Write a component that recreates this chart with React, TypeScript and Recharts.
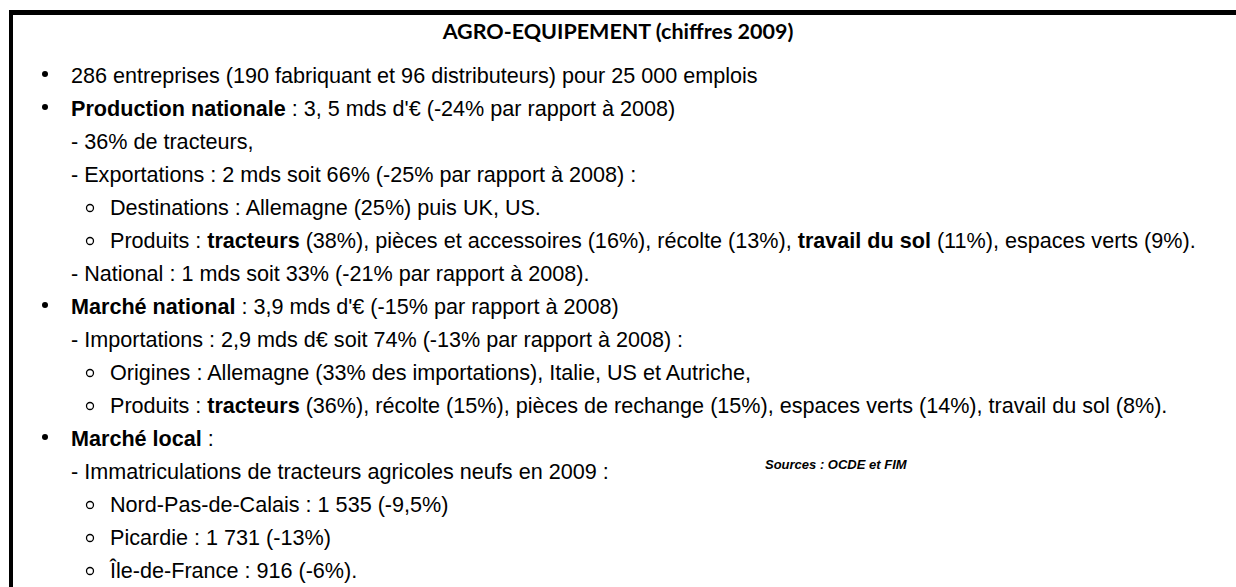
import { Surface, Layer, Text } from 'recharts';

// texte du cadre "agro-équipement" (chiffres 2009)
const title = 'AGRO-EQUIPEMENT (chiffres 2009)';

type Seg = [string, boolean];

// niveau: 0 = puce ronde, 1 = tiret, 2 = puce "o"
const levels = [0, 0, 1, 1, 2, 2, 1, 0, 1, 2, 2, 0, 1, 2, 2, 2];

const lines: Seg[][] = [
  [['286 entreprises (190 fabriquant et 96 distributeurs) pour 25 000 emplois', false]],
  [['Production nationale', true], [' : 3, 5 mds d\'€ (-24% par rapport à 2008)', false]],
  [['- 36% de tracteurs,', false]],
  [['- Exportations : 2 mds soit 66% (-25% par rapport à 2008) :', false]],
  [['Destinations : Allemagne (25%) puis UK, US.', false]],
  [
    ['Produits : ', false],
    ['tracteurs', true],
    [' (38%), pièces et accessoires (16%), récolte (13%), ', false],
    ['travail du sol', true],
    [' (11%), espaces verts (9%).', false],
  ],
  [['- National : 1 mds soit 33% (-21% par rapport à 2008).', false]],
  [['Marché national', true], [' : 3,9 mds d\'€ (-15% par rapport à 2008)', false]],
  [['- Importations : 2,9 mds d€ soit 74% (-13% par rapport à 2008) :', false]],
  [['Origines : Allemagne (33% des importations), Italie, US et Autriche,', false]],
  [
    ['Produits : ', false],
    ['tracteurs', true],
    [' (36%), récolte (15%), pièces de rechange (15%), espaces verts (14%), travail du sol (8%).', false],
  ],
  [['Marché local', true], [' :', false]],
  [['- Immatriculations de tracteurs agricoles neufs en 2009 :', false]],
  [['Nord-Pas-de-Calais : 1 535 (-9,5%)', false]],
  [['Picardie : 1 731 (-13%)', false]],
  [['Île-de-France : 916 (-6%).', false]],
];

const sourceNote = 'Sources : OCDE et FIM';
const sourceRow = 12;

const W = 1236;
const H = 587;
const FONT = '"Liberation Sans", Arial, sans-serif';
const SIZE = 21.6;
const ROW0 = 75;
const STEP = 33;

const bulletX = [45, 0, 90];
const textX = [71, 71, 110];

export default function App() {
  return (
    <div style={{ position: 'absolute', left: 0, top: 0, width: W, height: H, background: '#fff' }}>
      <Surface width={W} height={H}>
        <Layer>
          <rect x={9} y={10} width={W - 9} height={5} fill="#000" />
          <rect x={9} y={10} width={4} height={H - 10} fill="#000" />
        </Layer>
        <Text
          x={618}
          y={31}
          textAnchor="middle"
          verticalAnchor="middle"
          style={{ fontFamily: 'Lato, "Open Sans", sans-serif', fontWeight: 700, fontSize: 21.5 }}
          fill="#000"
        >
          {title}
        </Text>
        <Layer>
          {lines.map((segs, i) => {
            const lvl = levels[i];
            const y = ROW0 + i * STEP + SIZE * 0.36;
            return (
              <g key={i}>
                {lvl === 0 && <circle cx={bulletX[0]} cy={ROW0 + i * STEP - 1} r={3} fill="#000" />}
                {lvl === 2 && (
                  <circle cx={bulletX[2]} cy={ROW0 + i * STEP + 1} r={3.5} fill="none" stroke="#000" strokeWidth={1.3} />
                )}
                <text x={textX[lvl]} y={y} fontFamily={FONT} fontSize={SIZE} fill="#000">
                  {segs.map(([t, b], j) => (
                    <tspan key={j} fontWeight={b ? 700 : 400} style={{ whiteSpace: 'pre' }}>
                      {t}
                    </tspan>
                  ))}
                </text>
              </g>
            );
          })}
        </Layer>
        <text
          x={765}
          y={ROW0 + sourceRow * STEP - 2}
          fontFamily={FONT}
          fontSize={13}
          fontWeight={700}
          fontStyle="italic"
          fill="#000"
        >
          {sourceNote}
        </text>
      </Surface>
    </div>
  );
}
